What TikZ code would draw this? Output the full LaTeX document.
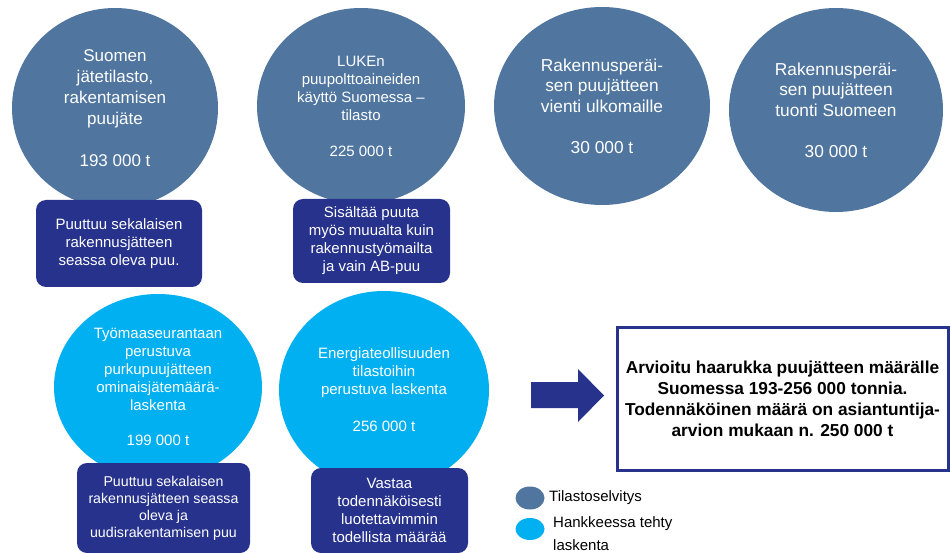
\documentclass[tikz,border=0pt]{standalone}
\usepackage{fontspec}
\setmainfont{Liberation Sans}
\usetikzlibrary{shapes.geometric}
\definecolor{statblue}{RGB}{80,118,160}
\definecolor{calcblue}{RGB}{0,176,240}
\definecolor{navy}{RGB}{38,50,140}
\begin{document}
\begin{tikzpicture}[x=1pt,y=-1pt,
  bubble/.style={ellipse, text=white, align=center, inner sep=0pt},
  stat/.style={bubble, fill=statblue},
  calc/.style={bubble, fill=calcblue},
  note/.style={rounded corners=10pt, fill=navy, text=white, align=center, inner sep=0pt,
    font=\fontsize{15}{18}\selectfont},
  result/.style={draw=navy, line width=3pt, fill=white, align=center, inner sep=0pt,
    font=\bfseries\fontsize{17.3}{21}\selectfont},
  legdot/.style={ellipse, inner sep=0pt, minimum width=29pt, minimum height=23pt},
  legtext/.style={anchor=west, align=left, inner sep=0pt, font=\fontsize{15}{23}\selectfont}
]
\useasboundingbox (0,0) rectangle (950,553);

% statistics-based estimates
\node[stat, minimum width=206pt, minimum height=200pt, font=\fontsize{17}{21}\selectfont]
  (jate) at (115,108) {Suomen\\jätetilasto,\\rakentamisen\\puujäte\\[21pt]193 000 t};
\node[stat, minimum width=208pt, minimum height=196pt, font=\fontsize{15}{18}\selectfont]
  (luke) at (361,106) {LUKEn\\puupolttoaineiden\\käyttö Suomessa –\\tilasto\\[18pt]225 000 t};
\node[stat, minimum width=216pt, minimum height=198pt, font=\fontsize{17.3}{20.5}\selectfont]
  (vienti) at (602,106) {Rakennusperäi-\\sen puujätteen\\vienti ulkomaille\\[20.5pt]30 000 t};
\node[stat, minimum width=214pt, minimum height=204pt, font=\fontsize{17.3}{20.5}\selectfont]
  (tuonti) at (836,110) {Rakennusperäi-\\sen puujätteen\\tuonti Suomeen\\[20.5pt]30 000 t};

% calculations made in the project
\node[calc, minimum width=208pt, minimum height=186pt, font=\fontsize{15}{18}\selectfont]
  (tyomaa) at (158,387) {Työmaaseurantaan\\perustuva\\purkupuujätteen\\ominaisjätemäärä-\\laskenta\\[17pt]199 000 t};
\node[calc, minimum width=210pt, minimum height=198pt, font=\fontsize{15}{18}\selectfont]
  (energia) at (384,390) {Energiateollisuuden\\tilastoihin\\perustuva laskenta\\[19pt]256 000 t};

% remarks under the bubbles
\node[note, minimum width=166pt, minimum height=87pt] (n1) at (119,243.5)
  {Puuttuu sekalaisen\\rakennusjätteen\\seassa oleva puu.};
\node[note, minimum width=157pt, minimum height=84pt] (n2) at (371.5,241)
  {Sisältää puuta\\myös muualta kuin\\rakennustyömailta\\ja vain AB-puu};
\node[note, minimum width=173pt, minimum height=90pt, font=\fontsize{14.2}{17}\selectfont]
  (n3) at (163.5,508) {Puuttuu sekalaisen\\rakennusjätteen seassa\\oleva ja\\uudisrakentamisen puu};
\node[note, minimum width=157pt, minimum height=85pt] (n4) at (389.5,510.5)
  {Vastaa\\todennäköisesti\\luotettavimmin\\todellista määrää};

% conclusion: block arrow pointing at the result box
\fill[navy] (531,382) -- (578,382) -- (578,369) -- (604,395.5)
  -- (578,422) -- (578,408) -- (531,408) -- cycle;
\node[result, minimum width=331pt, minimum height=143pt] (res) at (782.5,398.5)
  {Arvioitu haarukka puujätteen määrälle\\Suomessa 193-256 000 tonnia.\\Todennäköinen määrä on asiantuntija-\\arvion mukaan n. 250 000 t};

% legend
\node[legdot, fill=statblue] (lstat) at (530,498) {};
\node[legtext] (lstattext) at (549,498) {Tilastoselvitys};
\node[legdot, fill=calcblue, minimum height=22pt] (lcalc) at (530,529) {};
\node[legtext] (lcalctext) at (553,533.5) {Hankkeessa tehty\\laskenta};
\end{tikzpicture}
\end{document}
